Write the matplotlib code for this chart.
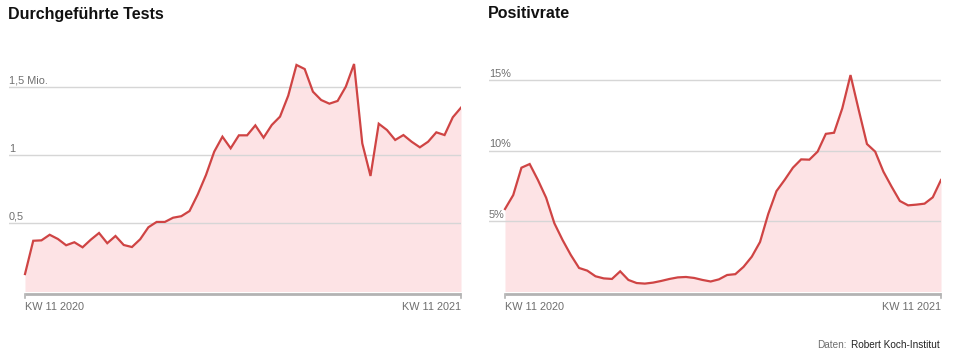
import numpy as np
import matplotlib
matplotlib.use("Agg")
import matplotlib.pyplot as plt
import matplotlib.transforms as mtransforms

plt.rcParams['font.family'] = ['Liberation Sans', 'DejaVu Sans']

# weekly values, KW 11 2020 .. KW 11 2021 (54 weeks)
tests_mio = [0.128, 0.372, 0.375, 0.416, 0.385, 0.339, 0.361, 0.324, 0.380, 0.429,
             0.354, 0.407, 0.341, 0.326, 0.383, 0.471, 0.510, 0.510, 0.541, 0.552,
             0.590, 0.712, 0.854, 1.025, 1.135, 1.050, 1.145, 1.145, 1.218, 1.128,
             1.221, 1.282, 1.436, 1.661, 1.631, 1.465, 1.404, 1.377, 1.397, 1.502,
             1.668, 1.086, 0.847, 1.230, 1.184, 1.111, 1.147, 1.098, 1.057, 1.098,
             1.167, 1.147, 1.277, 1.348]
positive_pct = [5.85, 6.84, 8.78, 9.04, 7.91, 6.65, 4.84, 3.65, 2.59, 1.67,
                1.48, 1.08, 0.93, 0.89, 1.43, 0.82, 0.60, 0.56, 0.63, 0.75,
                0.89, 1.00, 1.03, 0.96, 0.82, 0.71, 0.86, 1.17, 1.23, 1.75,
                2.47, 3.51, 5.50, 7.12, 7.92, 8.78, 9.37, 9.35, 9.92, 11.18,
                11.26, 12.99, 15.35, 12.87, 10.46, 9.92, 8.50, 7.43, 6.42, 6.11,
                6.16, 6.23, 6.68, 7.91]
x_labels = ['KW 11 2020', 'KW 11 2021']
tests_ticks = [0.5, 1.0, 1.5]
tests_tick_labels = ['0,5', '1', '1,5 Mio.']
pos_ticks = [5, 10, 15]
pos_tick_labels = ['5%', '10%', '15%']

LINE = '#cf4444'
FILL = '#fde3e5'
GRID = '#d6d6d6'
AXIS = '#b3b3b3'
LABEL = '#6e6e6e'

W, H = 955, 364
fig = plt.figure(figsize=(W / 100, H / 100), dpi=100)

y0, ytop = 291.5, 55
step = 8.226  # px per week


def panel(left_px, right_px, data, ticks, tick_labels, px_per_unit, title):
    ax = fig.add_axes([left_px / W, (H - y0) / H, (right_px - left_px) / W, (y0 - ytop) / H])
    n = len(data)
    x = np.arange(n)
    pad = (16) / step
    ax.set_xlim(-pad, n - 1)
    ax.set_ylim(0, (y0 - ytop) / px_per_unit)
    for t, lab in zip(ticks, tick_labels):
        ax.axhline(t, color=GRID, lw=1.0, zorder=1)
        ax.annotate(lab, xy=(0, t), xycoords=ax.get_yaxis_transform(),
                    xytext=(0, 1), textcoords='offset points',
                    ha='left', va='bottom', fontsize=7.8, color=LABEL)
    ax.fill_between(x, 0, data, color=FILL, lw=0, zorder=0)
    ax.plot(x, data, color=LINE, lw=1.6, zorder=3, solid_joinstyle='miter')
    # baseline with end ticks
    tr = mtransforms.offset_copy(ax.get_xaxis_transform(), fig=fig, y=-2, units='dots')
    ax.plot([0, n - 1], [0, 0], color=AXIS, lw=2, transform=tr, clip_on=False,
            solid_capstyle='butt')
    ax.plot([0, 0], [0, -0.02], color=AXIS, lw=1.2, transform=tr, clip_on=False)
    ax.plot([n - 1, n - 1], [0, -0.02], color=AXIS, lw=1.2, transform=tr, clip_on=False)
    ax.text(0, -0.065, x_labels[0], transform=ax.get_xaxis_transform(),
            ha='left', va='center', fontsize=7.8, color=LABEL)
    ax.text(n - 1, -0.065, x_labels[1], transform=ax.get_xaxis_transform(),
            ha='right', va='center', fontsize=7.8, color=LABEL)
    ax.axis('off')
    fig.text(left_px / W - 0.001, 1 - 14 / H, title, ha='left', va='center',
             fontsize=11.5, fontweight='bold', color='#111111',
             family=['Liberation Sans Narrow', 'Liberation Sans'])
    return ax


panel(9, 461, tests_mio, tests_ticks, tests_tick_labels, 136.4, 'Durchgeführte Tests')
panel(489, 941, positive_pct, pos_ticks, pos_tick_labels, 14.1, 'Positivrate')

fig.text(940 / W, 1 - 345 / H, 'Robert Koch-Institut', ha='right', va='center',
         fontsize=7.2, color='#222222')
fig.text(847 / W, 1 - 345 / H, 'Daten:', ha='right', va='center',
         fontsize=7.2, color=LABEL)

fig.savefig('out.png', dpi=100, facecolor='white')
